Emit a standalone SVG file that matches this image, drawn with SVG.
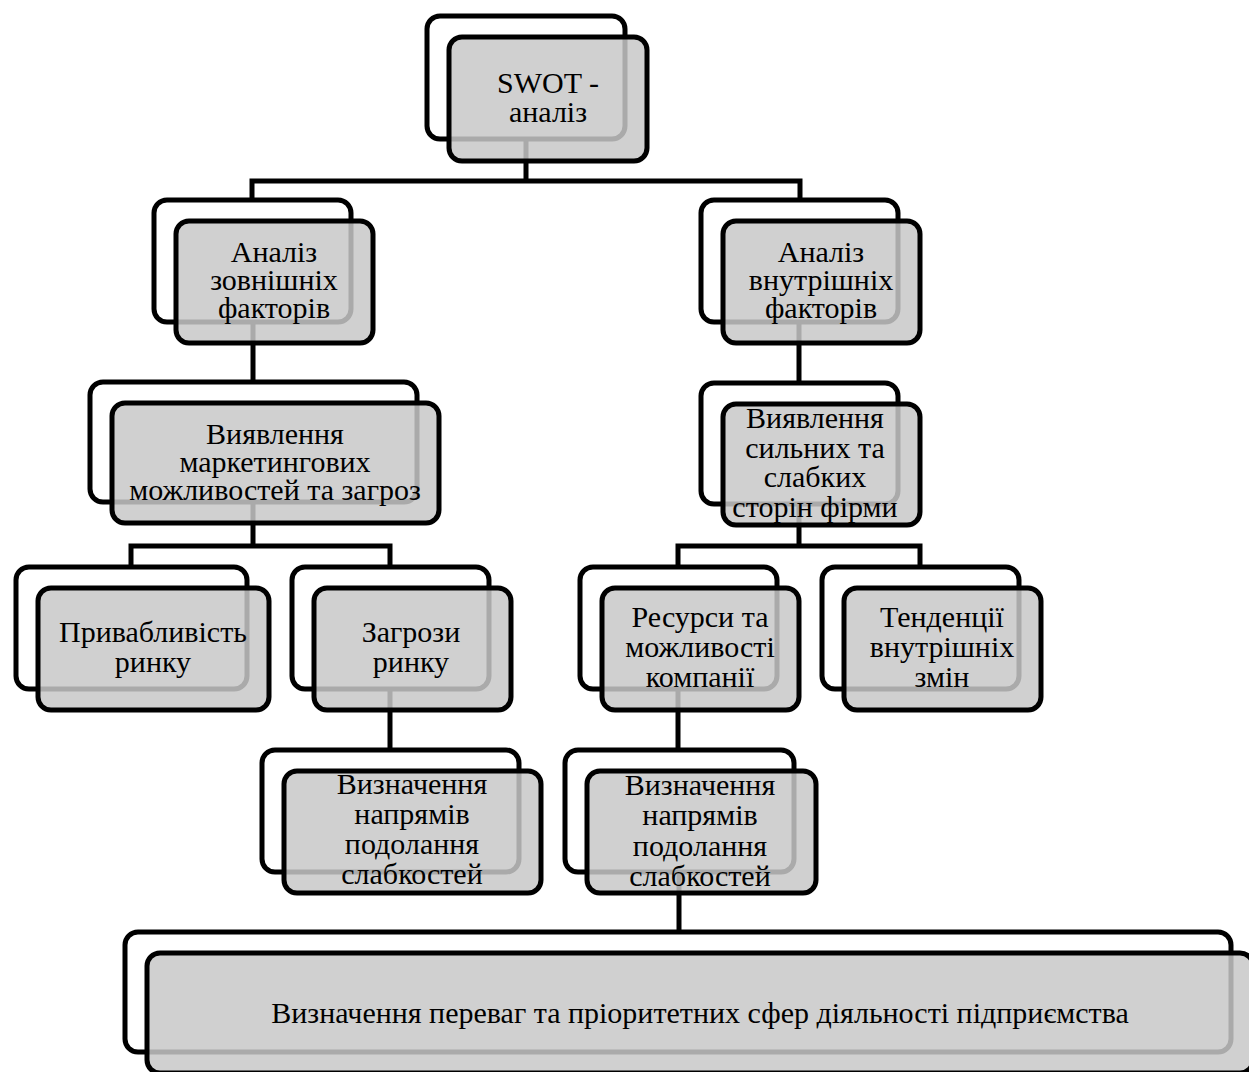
<svg xmlns="http://www.w3.org/2000/svg" width="1249" height="1072" viewBox="0 0 1249 1072">
<style>
.back{fill:#ffffff;stroke:#000;stroke-width:5}
.front{fill:#c8c8c8;fill-opacity:0.85;stroke:#000;stroke-width:5}
.t{font-family:"Liberation Serif","Times New Roman",serif;font-size:30px;fill:#000;text-anchor:middle}
.con{fill:none;stroke:#000;stroke-width:5}
</style>
<rect width="1249" height="1072" fill="#fff"/>
<g id="connectors" class="con">
<path d="M526,139 V181 M252,200 V181 H800 V200"/>
<path d="M253,322 V382"/>
<path d="M799,322 V383"/>
<path d="M253,502 V546 M131,567 V546 H390 V567"/>
<path d="M799,504 V546 M678,567 V546 H920 V567"/>
<path d="M390,689 V750"/>
<path d="M678,689 V750"/>
<path d="M679,872 V932"/>
</g>
<g id="swot">
<rect class="back" x="427" y="16" width="198" height="123" rx="13"/>
<rect class="front" x="449" y="37" width="198" height="124" rx="13"/>
<text class="t" x="548" y="93">SWOT -</text>
<text class="t" x="548" y="122">аналіз</text>
</g>
<g id="external">
<rect class="back" x="154" y="200" width="197" height="122" rx="13"/>
<rect class="front" x="176" y="221" width="197" height="122" rx="13"/>
<text class="t" x="274" y="262">Аналіз</text>
<text class="t" x="274" y="290">зовнішніх</text>
<text class="t" x="274" y="318">факторів</text>
</g>
<g id="internal">
<rect class="back" x="701" y="200" width="197" height="122" rx="13"/>
<rect class="front" x="723" y="221" width="197" height="122" rx="13"/>
<text class="t" x="821" y="262">Аналіз</text>
<text class="t" x="821" y="290">внутрішніх</text>
<text class="t" x="821" y="318">факторів</text>
</g>
<g id="marketing">
<rect class="back" x="90" y="382" width="327" height="120" rx="13"/>
<rect class="front" x="112" y="403" width="327" height="120" rx="13"/>
<text class="t" x="275" y="444">Виявлення</text>
<text class="t" x="275" y="472">маркетингових</text>
<text class="t" x="275" y="500">можливостей та загроз</text>
</g>
<g id="strengths">
<rect class="back" x="701" y="383" width="197" height="121" rx="13"/>
<rect class="front" x="723" y="404" width="197" height="121" rx="13"/>
<text class="t" x="815" y="428">Виявлення</text>
<text class="t" x="815" y="458">сильних та</text>
<text class="t" x="815" y="487">слабких</text>
<text class="t" x="815" y="517">сторін фірми</text>
</g>
<g id="attractiveness">
<rect class="back" x="16" y="567" width="231" height="122" rx="13"/>
<rect class="front" x="38" y="588" width="231" height="122" rx="13"/>
<text class="t" x="153" y="642">Привабливість</text>
<text class="t" x="153" y="672">ринку</text>
</g>
<g id="threats">
<rect class="back" x="292" y="567" width="197" height="122" rx="13"/>
<rect class="front" x="314" y="588" width="197" height="122" rx="13"/>
<text class="t" x="411" y="642">Загрози</text>
<text class="t" x="411" y="672">ринку</text>
</g>
<g id="resources">
<rect class="back" x="580" y="567" width="197" height="122" rx="13"/>
<rect class="front" x="602" y="588" width="197" height="122" rx="13"/>
<text class="t" x="700" y="627">Ресурси та</text>
<text class="t" x="700" y="657">можливості</text>
<text class="t" x="700" y="687">компанії</text>
</g>
<g id="trends">
<rect class="back" x="822" y="567" width="197" height="122" rx="13"/>
<rect class="front" x="844" y="588" width="197" height="122" rx="13"/>
<text class="t" x="942" y="627">Тенденції</text>
<text class="t" x="942" y="657">внутрішніх</text>
<text class="t" x="942" y="687">змін</text>
</g>
<g id="directions-left">
<rect class="back" x="262" y="750" width="257" height="122" rx="13"/>
<rect class="front" x="284" y="771" width="257" height="122" rx="13"/>
<text class="t" x="412" y="794">Визначення</text>
<text class="t" x="412" y="824">напрямів</text>
<text class="t" x="412" y="854">подолання</text>
<text class="t" x="412" y="884">слабкостей</text>
</g>
<g id="directions-right">
<rect class="back" x="565" y="750" width="229" height="122" rx="13"/>
<rect class="front" x="587" y="771" width="229" height="122" rx="13"/>
<text class="t" x="700" y="795">Визначення</text>
<text class="t" x="700" y="825">напрямів</text>
<text class="t" x="700" y="856">подолання</text>
<text class="t" x="700" y="886">слабкостей</text>
</g>
<g id="final">
<rect class="back" x="125" y="932" width="1106" height="120" rx="13"/>
<rect class="front" x="147" y="953" width="1106" height="120" rx="13"/>
<text class="t" x="700" y="1023">Визначення переваг та пріоритетних сфер діяльності підприємства</text>
</g>
</svg>
